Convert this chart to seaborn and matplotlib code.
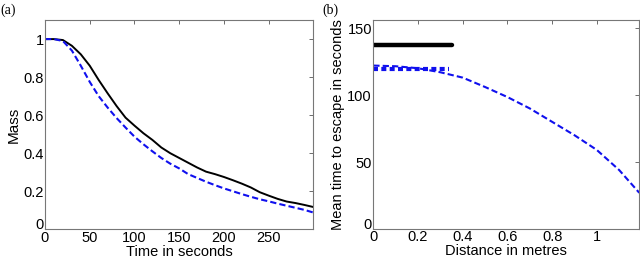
import numpy as np
import pandas as pd
import matplotlib
matplotlib.use('Agg')
import matplotlib.pyplot as plt
import matplotlib.transforms as mtransforms
import seaborn as sns

# --- data ---
# (a) mass remaining vs time
time_s = [0, 10, 20, 30, 40, 50, 60, 70, 80, 90, 100, 110, 120, 130, 140, 150,
          160, 170, 180, 190, 200, 210, 220, 230, 240, 250, 260, 270, 280, 290, 300]
mass_sim = [1.0, 1.0, 0.995, 0.965, 0.92, 0.86, 0.785, 0.715, 0.648, 0.587, 0.545,
            0.505, 0.47, 0.43, 0.40, 0.375, 0.35, 0.325, 0.303, 0.29, 0.275, 0.258,
            0.24, 0.22, 0.195, 0.177, 0.16, 0.146, 0.138, 0.128, 0.117]
mass_model = [1.0, 1.0, 0.99, 0.94, 0.86, 0.775, 0.70, 0.64, 0.585, 0.535, 0.487,
              0.447, 0.41, 0.375, 0.345, 0.32, 0.29, 0.27, 0.25, 0.232, 0.215, 0.2,
              0.185, 0.171, 0.158, 0.147, 0.135, 0.124, 0.113, 0.102, 0.088]

# (b) mean escape time vs distance
dist_sim = [0.0, 0.35]
escape_sim = [137, 137]
dist_avg = [0.0, 0.34]
escape_avg = [119.5, 119.5]
dist_model = [0.0, 0.1, 0.2, 0.3, 0.4, 0.5, 0.6, 0.7, 0.8, 0.9, 1.0, 1.1, 1.19]
escape_model = [122, 121.5, 120, 117, 113, 106, 98.5, 90, 80, 70, 59, 44, 27]

sns.set_style('white')
plt.rcParams['font.family'] = ['Liberation Sans', 'DejaVu Sans']
plt.rcParams['font.size'] = 10.5
plt.rcParams['text.color'] = 'black'
plt.rcParams['axes.labelcolor'] = 'black'
plt.rcParams['xtick.color'] = 'black'
plt.rcParams['ytick.color'] = 'black'

fig = plt.figure(figsize=(6.4, 2.58), dpi=100)
ax1 = fig.add_axes([0.0703, 0.1112, 0.4195, 0.811])
ax2 = fig.add_axes([0.5833, 0.1124, 0.4156, 0.810])

df_a = pd.DataFrame({'t': time_s, 'sim': mass_sim, 'model': mass_model})
sns.lineplot(data=df_a, x='t', y='sim', ax=ax1, color='black', lw=1.4)
sns.lineplot(data=df_a, x='t', y='model', ax=ax1, color='#1010ee', lw=1.5,
             linestyle=(0, (3, 1.5)))
ax1.set_xlim(0, 300)
ax1.set_ylim(0, 1.1)
ax1.set_xticks([0, 50, 100, 150, 200, 250])
ax1.set_yticks([0, 0.2, 0.4, 0.6, 0.8, 1])
ax1.set_yticklabels(['0', '0.2', '0.4', '0.6', '0.8', '1'])
ax1.set_xlabel('Time in seconds', labelpad=0, fontsize=10.5)
ax1.set_ylabel('Mass', labelpad=2, fontsize=11)

sns.lineplot(x=dist_sim, y=escape_sim, ax=ax2, color='black', lw=3.2)
sns.lineplot(x=dist_avg, y=escape_avg, ax=ax2, color='#1010ee', lw=3,
             linestyle=(0, (1.2, 0.8)))
sns.lineplot(x=dist_model, y=escape_model, ax=ax2, color='#1010ee', lw=1.5,
             linestyle=(0, (3, 1.5)))
ax2.set_xlim(0, 1.19)
ax2.set_ylim(0, 156)
ax2.set_xticks([0, 0.2, 0.4, 0.6, 0.8, 1])
ax2.set_xticklabels(['0', '0.2', '0.4', '0.6', '0.8', '1'])
ax2.set_yticks([0, 50, 100, 150])
ax2.set_xlabel('Distance in metres', labelpad=0, fontsize=10.5)
ax2.set_ylabel('Mean time to escape in seconds', labelpad=2, fontsize=10.5)

for ax in (ax1, ax2):
    ax.tick_params(direction='in', length=3, width=0.6, top=True, right=True,
                   labelsize=10.5, pad=1, color='#555555', labelcolor='black')
    for s in ax.spines.values():
        s.set_color('#777777')
        s.set_linewidth(0.8)
    # lift the y "0" label a little so it sits above the x "0", as in MATLAB output
    lbl = ax.get_yticklabels()[0]
    lbl.set_transform(lbl.get_transform() +
                      mtransforms.ScaledTranslation(0, 4 / 72, fig.dpi_scale_trans))

fig.text(0.0, 0.985, '(a)', family='Liberation Serif', fontsize=10, va='top')
fig.text(0.503, 0.985, '(b)', family='Liberation Serif', fontsize=10, va='top')

fig.savefig('out.png', dpi=100)
